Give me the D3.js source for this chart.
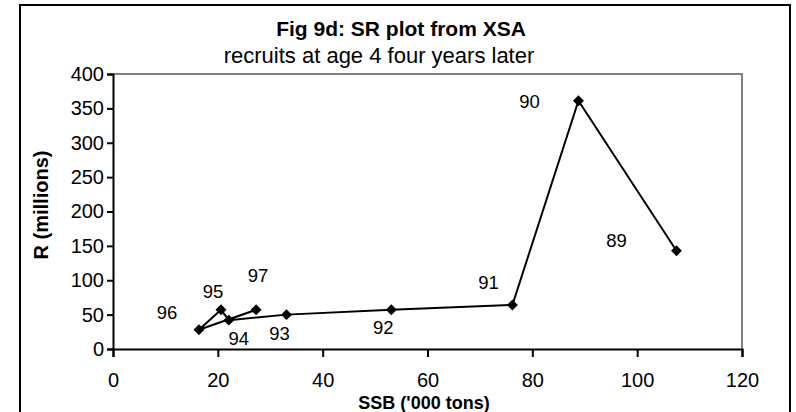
<!DOCTYPE html>
<html>
<head>
<meta charset="utf-8">
<script src="https://cdn.jsdelivr.net/npm/d3@7"></script>
<style>
  body { margin: 0; background: #fff; }
  text { font-family: "Liberation Sans", Arial, sans-serif; }
</style>
</head>
<body>
<div id="chart"></div>
<script>
const width = 796;
const height = 412;
const margin = { top: 74, right: 54, bottom: 63, left: 113 };

// data
const years = ["89", "90", "91", "92", "93", "94", "95", "96", "97"];
const ssb = [107.5, 88.8, 76.2, 53.1, 33.1, 22.1, 20.6, 16.4, 27.3];
const recruits = [143, 361, 64, 57, 50, 42, 57, 28, 57];
const xTicks = [0, 20, 40, 60, 80, 100, 120];
const yTicks = [0, 50, 100, 150, 200, 250, 300, 350, 400];

// label offsets (px) from each point, as placed in the original
const labelOffset = {
  "89": [-60, -10], "90": [-49, 1], "91": [-24, -22], "92": [-8, 18],
  "93": [-7, 19], "94": [10, 18], "95": [-8, -18], "96": [-32, -17], "97": [2, -34]
};

const points = years.map((y, i) => ({ year: y, x: ssb[i], y: recruits[i] }));

const innerW = width - margin.left - margin.right;
const innerH = height - margin.top - margin.bottom;

const svg = d3
  .select("#chart")
  .append("svg")
  .attr("width", width)
  .attr("height", height);

// outer chart border
svg
  .append("rect")
  .attr("x", 20)
  .attr("y", 5)
  .attr("width", 770)
  .attr("height", 420)
  .attr("fill", "none")
  .attr("stroke", "#000")
  .attr("stroke-width", 2);

// titles
svg
  .append("text")
  .attr("x", 401)
  .attr("y", 36)
  .attr("text-anchor", "middle")
  .style("font-size", "21px")
  .style("font-weight", "bold")
  .text("Fig 9d: SR plot from XSA");

svg
  .append("text")
  .attr("x", 379)
  .attr("y", 63)
  .attr("text-anchor", "middle")
  .style("font-size", "22px")
  .text("recruits at age 4 four years later");

const g = svg
  .append("g")
  .attr("transform", `translate(${margin.left},${margin.top})`);

const x = d3.scaleLinear().domain([0, 120]).range([0, innerW]);
const y = d3.scaleLinear().domain([0, 400]).range([innerH, 0]);

// plot area frame (grey top / right)
g.append("path")
  .attr("d", `M0,0H${innerW}V${innerH}`)
  .attr("fill", "none")
  .attr("stroke", "#808080")
  .attr("stroke-width", 2);

// axes
const xAxis = g
  .append("g")
  .attr("transform", `translate(0,${innerH})`)
  .call(d3.axisBottom(x).tickValues(xTicks).tickSize(8).tickPadding(16));

const yAxis = g
  .append("g")
  .call(d3.axisLeft(y).tickValues(yTicks).tickSize(6).tickPadding(3));

[xAxis, yAxis].forEach((ax) => {
  ax.select(".domain").attr("stroke", "#000").attr("stroke-width", 2);
  ax.selectAll(".tick line").attr("stroke", "#000").attr("stroke-width", 2);
  ax.selectAll(".tick text")
    .attr("fill", "#000")
    .style("font-family", '"Liberation Sans", Arial, sans-serif')
    .style("font-size", "20px");
});

// axis titles
svg
  .append("text")
  .attr("x", 424)
  .attr("y", 409)
  .attr("text-anchor", "middle")
  .style("font-size", "18px")
  .style("font-weight", "bold")
  .text("SSB ('000 tons)");

svg
  .append("text")
  .attr("transform", "translate(48,205) rotate(-90)")
  .attr("text-anchor", "middle")
  .style("font-size", "20px")
  .style("font-weight", "bold")
  .text("R (millions)");

// line
const line = d3
  .line()
  .x((d) => x(d.x))
  .y((d) => y(d.y));

g.append("path")
  .datum(points)
  .attr("fill", "none")
  .attr("stroke", "#000")
  .attr("stroke-width", 2)
  .attr("d", line);

// diamond markers
g.selectAll(".marker")
  .data(points)
  .enter()
  .append("path")
  .attr("class", "marker")
  .attr("d", d3.symbol(d3.symbolSquare, 60))
  .attr("transform", (d) => `translate(${x(d.x)},${y(d.y)}) rotate(45)`)
  .attr("fill", "#000");

// year labels
g.selectAll(".label")
  .data(points)
  .enter()
  .append("text")
  .attr("class", "label")
  .attr("x", (d) => x(d.x) + labelOffset[d.year][0])
  .attr("y", (d) => y(d.y) + labelOffset[d.year][1])
  .attr("text-anchor", "middle")
  .attr("dy", "0.35em")
  .style("font-size", "18.5px")
  .text((d) => d.year);
</script>
</body>
</html>
